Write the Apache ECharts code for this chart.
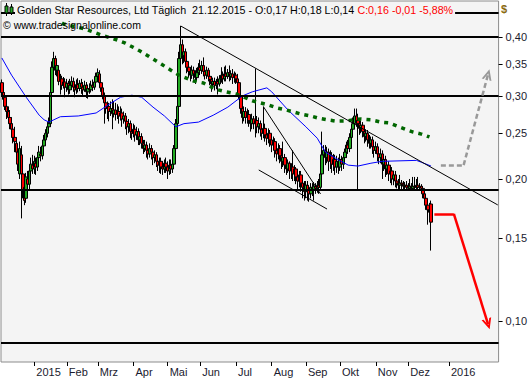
<!DOCTYPE html>
<html>
<head>
<meta charset="utf-8">
<script src="https://cdn.jsdelivr.net/npm/echarts@6/dist/echarts.min.js"></script>
<style>html,body{margin:0;padding:0;background:#fff}#c{width:530px;height:380px}</style>
</head>
<body>
<div id="c"></div>
<script>
// ---------- DATA ----------
const holidays = ['2014-12-25','2015-01-01','2015-01-19','2015-02-16','2015-04-03','2015-05-25','2015-07-03','2015-09-07','2015-11-26'];
const firstDay = '2014-12-03', lastTradingDay = '2015-12-21', lastFutureDay = '2016-01-31';
const monthLabels = ['Jan','Feb','Mrz','Apr','Mai','Jun','Jul','Aug','Sep','Okt','Nov','Dez'];
const yTickValues = [0.10, 0.15, 0.20, 0.25, 0.30, 0.35, 0.40];

// daily candles [open, close, low, high]
const candles = [
[.320,.305,.300,.325],[.305,.295,.290,.315],[.298,.285,.280,.305],[.285,.278,.268,.292],[.278,.270,.262,.285],
[.270,.262,.255,.280],[.262,.255,.245,.270],[.255,.245,.238,.262],[.245,.240,.228,.258],[.238,.228,.220,.245],
[.228,.215,.208,.232],[.205,.232,.200,.240],[.225,.205,.165,.235],[.205,.190,.182,.215],[.192,.180,.176,.198],
[.182,.202,.178,.206],[.200,.195,.186,.208],[.195,.208,.190,.212],[.208,.215,.200,.222],[.214,.210,.205,.225],
[.210,.218,.205,.224],[.216,.212,.204,.222],[.212,.222,.208,.228],[.222,.228,.215,.235],[.226,.224,.218,.234],
[.224,.235,.220,.240],[.235,.242,.230,.248],[.242,.250,.238,.255],[.250,.258,.245,.264],[.258,.262,.250,.270],
[.262,.305,.258,.312],[.305,.345,.300,.355],[.345,.360,.335,.372],[.360,.340,.332,.365],[.340,.348,.330,.355],
[.340,.322,.316,.344],[.322,.326,.302,.334],[.326,.316,.309,.331],[.316,.321,.311,.329],[.321,.313,.298,.327],
[.313,.319,.306,.326],[.319,.309,.302,.323],[.309,.316,.303,.326],[.316,.322,.309,.330],[.322,.313,.306,.328],
[.313,.309,.298,.321],[.309,.317,.303,.325],[.317,.311,.305,.327],[.311,.319,.307,.324],[.319,.313,.303,.326],
[.313,.309,.301,.321],[.309,.316,.306,.323],[.316,.306,.297,.321],[.306,.311,.296,.317],[.311,.309,.303,.319],
[.309,.316,.305,.323],[.316,.313,.307,.325],[.313,.321,.309,.329],[.321,.330,.316,.336],
[.330,.336,.324,.343],[.334,.320,.314,.340],[.320,.312,.306,.326],[.312,.300,.295,.316],[.300,.290,.262,.305],
[.290,.282,.275,.296],[.282,.285,.268,.292],[.285,.278,.265,.290],[.278,.282,.272,.292],[.282,.275,.255,.295],
[.275,.280,.270,.292],[.280,.274,.266,.290],[.274,.278,.268,.288],[.278,.272,.262,.285],[.272,.276,.266,.285],
[.276,.268,.258,.282],[.268,.272,.262,.278],[.272,.265,.255,.276],[.265,.258,.248,.270],[.258,.262,.250,.268],
[.262,.252,.244,.266],[.252,.250,.242,.262],
[.250,.255,.245,.262],[.255,.248,.240,.260],[.248,.252,.242,.258],[.252,.242,.236,.256],[.242,.246,.236,.252],
[.246,.238,.232,.250],[.238,.232,.226,.242],[.232,.236,.228,.242],[.236,.230,.222,.240],[.230,.226,.220,.236],
[.226,.232,.222,.238],[.232,.228,.220,.236],[.228,.222,.214,.232],[.222,.225,.216,.230],[.225,.218,.212,.228],
[.218,.214,.208,.224],[.214,.218,.206,.222],[.218,.212,.205,.222],[.212,.210,.204,.218],[.210,.216,.206,.220],
[.216,.212,.206,.222],[.212,.208,.200,.218],[.208,.214,.204,.220],[.214,.210,.205,.220],[.210,.215,.206,.222],
[.215,.232,.210,.236],[.232,.262,.228,.268],[.262,.285,.255,.292],[.285,.360,.280,.372],[.360,.385,.345,.422],
[.385,.365,.350,.395],[.365,.372,.352,.380],[.372,.355,.345,.378],[.355,.345,.335,.362],[.345,.338,.328,.352],
[.338,.332,.322,.345],[.332,.340,.326,.348],[.340,.334,.325,.346],[.334,.328,.318,.340],[.328,.336,.322,.344],
[.336,.345,.330,.352],[.345,.340,.332,.358],[.340,.348,.334,.356],[.348,.338,.330,.362],[.338,.332,.325,.345],
[.332,.340,.326,.346],[.340,.330,.322,.344],[.330,.325,.316,.336],[.325,.318,.306,.330],[.318,.322,.312,.328],
[.322,.316,.308,.328],[.316,.322,.310,.326],[.322,.318,.302,.330],[.318,.326,.314,.332],[.326,.332,.320,.345],
[.332,.326,.318,.338],[.326,.334,.322,.346],[.334,.330,.322,.348],[.330,.336,.326,.342],[.336,.330,.322,.348],
[.330,.334,.324,.340],[.334,.328,.318,.342],[.328,.332,.320,.338],[.332,.326,.318,.336],[.326,.320,.310,.334],
[.320,.300,.295,.324],[.300,.282,.275,.304],[.282,.270,.262,.288],[.270,.278,.265,.285],[.278,.270,.262,.284],
[.270,.274,.262,.282],[.274,.266,.258,.280],[.266,.262,.252,.272],[.262,.268,.255,.275],[.268,.262,.255,.272],
[.262,.266,.245,.343],[.266,.258,.250,.272],[.258,.262,.250,.270],[.262,.255,.246,.266],[.255,.250,.242,.262],
[.250,.256,.244,.285],[.256,.248,.240,.262],[.248,.244,.236,.254],[.244,.250,.238,.256],[.250,.242,.234,.254],
[.242,.236,.228,.246],[.236,.240,.230,.246],[.240,.230,.222,.244],[.230,.226,.218,.236],[.226,.232,.220,.238],
[.232,.224,.216,.236],[.224,.218,.210,.228],[.218,.222,.212,.240],[.222,.214,.206,.226],[.214,.210,.204,.220],
[.210,.216,.206,.220],[.216,.208,.200,.218],[.208,.212,.200,.216],[.212,.205,.198,.230],[.205,.210,.198,.214],
[.210,.202,.195,.212],[.202,.198,.190,.206],[.198,.204,.192,.208],[.204,.196,.188,.208],[.196,.192,.182,.200],
[.192,.188,.180,.198],[.188,.194,.182,.198],[.194,.190,.180,.198],[.190,.186,.179,.194],[.186,.192,.182,.196],
[.192,.190,.184,.196],[.190,.193,.180,.197],[.193,.191,.186,.196],[.191,.194,.187,.198],[.194,.192,.186,.200],
[.192,.205,.190,.210],[.205,.225,.202,.252],[.225,.230,.218,.236],[.230,.222,.214,.236],[.222,.228,.216,.234],
[.228,.218,.208,.232],[.218,.224,.210,.230],[.224,.215,.206,.228],[.215,.220,.208,.226],[.220,.212,.204,.225],
[.212,.218,.206,.224],[.218,.212,.205,.222],[.212,.220,.208,.226],[.220,.215,.208,.224],[.215,.222,.210,.228],
[.222,.228,.215,.232],[.228,.236,.222,.240],[.236,.232,.226,.242],[.232,.245,.228,.250],[.245,.255,.240,.260],
[.255,.262,.250,.270],[.262,.272,.255,.282],[.272,.266,.258,.282],[.266,.262,.190,.275],[.262,.256,.248,.268],
[.256,.260,.250,.266],[.260,.252,.245,.264],[.252,.246,.238,.256],[.246,.250,.240,.255],[.250,.242,.234,.254],
[.242,.238,.232,.248],[.238,.242,.232,.246],[.242,.234,.226,.246],[.234,.230,.222,.238],[.230,.234,.226,.240],
[.234,.226,.218,.238],[.226,.222,.215,.230],[.222,.226,.216,.232],[.226,.215,.200,.230],[.215,.220,.208,.224],
[.220,.210,.202,.224],[.210,.214,.204,.218],[.214,.205,.198,.218],[.205,.208,.196,.214],[.208,.200,.194,.212],
[.200,.204,.194,.208],[.204,.198,.192,.208],[.198,.196,.191,.204],[.196,.194,.190,.200],[.194,.196,.190,.204],
[.196,.195,.190,.199],[.195,.193,.190,.198],[.193,.194,.190,.197],[.194,.192,.190,.198],[.192,.191,.189,.196],
[.191,.193,.189,.200],[.193,.191,.189,.196],[.191,.193,.189,.202],[.193,.192,.189,.202],[.192,.194,.190,.200],
[.194,.192,.190,.202],[.192,.193,.190,.196],[.193,.191,.189,.195],[.191,.186,.182,.193],[.186,.182,.178,.190],
[.182,.176,.172,.186],[.176,.172,.160,.180],[.172,.170,.165,.178],[.177,.162,.141,.180]
];

// moving averages: [dayIndex, price]
const blueMA = [[0,.361],[6,.332],[15,.298],[23,.273],[26,.267],[29,.264],[32,.267],[36,.271],[47,.272],[58,.276],
[66,.288],[73,.298],[80,.301],[86,.298],[93,.284],[100,.272],[107,.258],[112,.262],[121,.264],[130,.273],[139,.284],
[148,.300],[154,.306],[163,.312],[166,.306],[176,.280],[187,.258],[194,.244],[199,.228],[205,.2216],[213,.214],
[219,.213],[227,.216],[234,.218],[255,.219],[258,.217],[264,.213]];
const greenMA = [[37,.428],[38,.426],[51,.416],[61,.404],[71,.394],[76,.388],[85,.3735],[90,.3645],[98,.3505],[104,.340],
[109,.332],[118,.3226],[124,.3195],[129,.313],[133,.309],[138,.306],[144,.303],[149,.298],[154,.293],[159,.290],
[164,.287],[169,.283],[175,.280],[180,.277],[184,.2746],[190,.272],[195,.269],[200,.267],[205,.2654],[212,.2654],
[216,.267],[221,.268],[227,.267],[233,.264],[238,.263],[243,.259],[248,.255],[253,.2515],[258,.249],[263,.2455]];

// drawn levels and trend lines
const supportLevels = [0.450, 0.404, 0.301, 0.1914, 0.0907];
const trendLines = [[[110,0.422],[305,0.1762]], [[161,0.2842],[196,0.1859]], [[158,0.209],[200,0.1727]]];
const grayScenario = [[269.7,0.214],[284,0.214],[299,0.333]];
const redScenario = [[266.2,0.1686],[278,0.1686],[298.5,0.0985]];

// ---------- BUILD ----------
function iso(d){return d.toISOString().slice(0,10);}
const categories = [];
(function(){
  let t = Date.parse(firstDay+'T00:00:00Z');
  const e1 = Date.parse(lastTradingDay+'T00:00:00Z'), e2 = Date.parse(lastFutureDay+'T00:00:00Z');
  while (t <= e2) {
    const d = new Date(t), s = iso(d), wd = d.getUTCDay();
    if (t <= e1) { if (wd !== 0 && wd !== 6 && holidays.indexOf(s) < 0) categories.push(s); }
    else categories.push(s);
    t += 86400000;
  }
})();
function isMonthStart(i){
  if (i === 0) return false;
  return categories[i].slice(5,7) !== categories[i-1].slice(5,7);
}
function monthText(s){
  const m = +s.slice(5,7);
  return m === 1 ? s.slice(0,4) : monthLabels[m-1];
}
const chevron = 'path://M0,11 L5,0 L10,11 L8,11 L5,4.5 L2,11 Z';
function segs(points, withArrow){
  const out = [];
  for (let i=0;i<points.length-1;i++){
    const last = withArrow && i === points.length-2;
    out.push([{coord: points[i], symbol:'none'}, {coord: points[i+1], symbol: last ? chevron : 'none', symbolSize: last ? [10,11] : 0}]);
  }
  return out;
}

const chart = echarts.init(document.getElementById('c'), null, {renderer:'svg', width:530, height:380});
const FONT = 'Liberation Sans, Arial, sans-serif';
chart.setOption({
  animation: false,
  backgroundColor: '#ffffff',
  title: {
    left: 15, top: 3, padding: [1,2,1,2],
    backgroundColor: '#f4f4f4',
    text: '{a|Golden Star Resources, Ltd Täglich  21.12.2015 - O:0,17 H:0,18 L:0,14 }{b|C:0,16 -0,01 -5,88%}',
    textStyle: { fontWeight: 'normal', rich: {
      a: {color:'#000', fontSize: 10.7, fontWeight: 'normal', fontFamily: FONT},
      b: {color:'#ff0000', fontSize: 10.7, fontWeight: 'normal', fontFamily: FONT}
    }}
  },
  graphic: [
    {type:'text', left: 3, top: 19, z: 10, style:{text:'© www.tradesignalonline.com', fill:'#000', font:'10.5px '+FONT}},
    {type:'text', left: 501, top: 3, z: 10, style:{text:'$', fill:'#8a6a10', font:'bold 11px '+FONT}},
    {type:'line', z: 20, shape:{x1:6.5,y1:3,x2:6.5,y2:16}, style:{stroke:'#000', lineWidth:1}},
    {type:'rect', z: 21, shape:{x:5,y:6,width:3,height:7}, style:{fill:'#22aa22', stroke:'#000', lineWidth:1}},
    {type:'line', z: 20, shape:{x1:11.5,y1:4,x2:11.5,y2:15}, style:{stroke:'#000', lineWidth:1}},
    {type:'rect', z: 21, shape:{x:10,y:7,width:3,height:6}, style:{fill:'#22aa22', stroke:'#000', lineWidth:1}}
  ],
  grid: { left: 1, right: 31, top: 1, bottom: 18, show: true, backgroundColor: '#f4f4f4', borderColor: '#8c8c8c', borderWidth: 1 },
  xAxis: {
    type: 'category', data: categories, boundaryGap: true,
    axisLine: {show: false},
    axisTick: {show: true, alignWithLabel: true, length: 4, interval: (i) => isMonthStart(i), lineStyle:{color:'#000'}},
    axisLabel: {interval: (i) => isMonthStart(i), formatter: (v) => monthText(v), align: 'left', margin: 4, padding:[0,0,0,2],
      color:'#1a1a2e', fontSize: 11, fontFamily: FONT},
    splitLine: {show:false}
  },
  yAxis: {
    type: 'log', logBase: 10, min: 0.08187, max: 0.4767, position: 'right',
    axisLine: {show:false}, splitLine:{show:false},
    axisTick: {show:true, length: 4, customValues: yTickValues, lineStyle:{color:'#000'}},
    axisLabel: {customValues: yTickValues, margin: 7, formatter: (v) => (+v).toFixed(2).replace('.', ','), color:'#1a1a2e', fontSize: 11, fontFamily: FONT}
  },
  series: [
    { type:'candlestick', data: candles, barWidth: 3, z: 2,
      itemStyle: {color:'#22aa22', color0:'#ff0000', borderColor:'#000', borderColor0:'#000', borderWidth: 1} },
    { type:'line', data: blueMA, showSymbol:false, symbol:'none', z: 3,
      lineStyle:{color:'#0000ff', width:1} },
    { type:'line', data: greenMA, showSymbol:false, symbol:'none', z: 3,
      lineStyle:{color:'#006600', width:3.5, type:[4,5]} },
    { type:'line', data: [], z: 4,
      markLine: { silent:true, symbol:['none','none'], label:{show:false},
        lineStyle:{color:'#000', width:2, type:'solid'},
        data: supportLevels.map(v => ({yAxis: v})) } },
    { type:'line', data: [], z: 4,
      markLine: { silent:true, symbol:['none','none'], label:{show:false},
        lineStyle:{color:'#000', width:1, type:'solid'},
        data: trendLines.map(s => [{coord:s[0]},{coord:s[1]}]) } },
    { type:'line', data: [], z: 5,
      markLine: { silent:true, symbol:['none','none'], label:{show:false},
        lineStyle:{color:'#999999', width:2.5, type:[5,3]},
        data: segs(grayScenario, true) } },
    { type:'line', data: [], z: 5,
      markLine: { silent:true, symbol:['none','none'], label:{show:false},
        lineStyle:{color:'#ff0000', width:2.5, type:'solid'},
        data: segs(redScenario, true) } }
  ]
});
</script>
</body>
</html>
